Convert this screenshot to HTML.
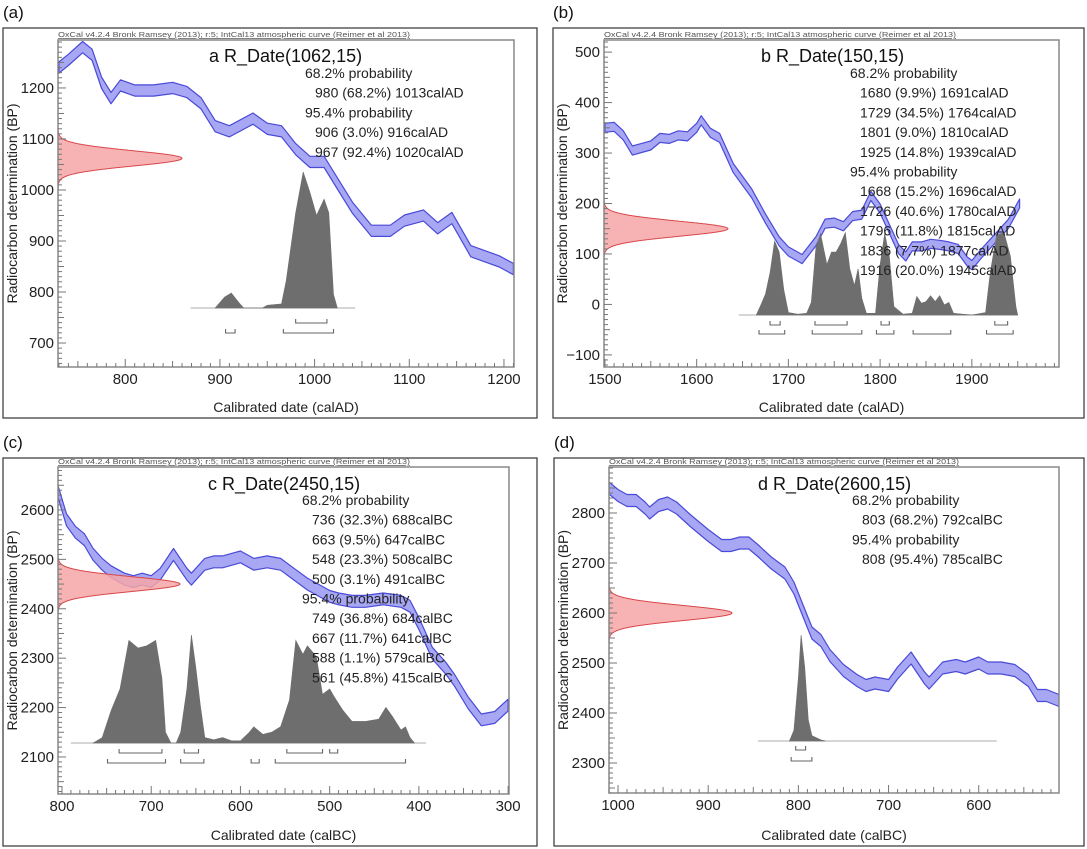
<!DOCTYPE html>
<html><head><meta charset="utf-8">
<style>
html,body{margin:0;padding:0;background:#fff;}
svg{display:block;font-family:"Liberation Sans",Arial,sans-serif;}
</style></head>
<body>
<svg id="fig" width="1087" height="849" viewBox="0 0 1087 849"></svg>
<script>
// ---------- Panel (a) data ----------
const aCurveYears = [730,740,755,765,775,785,795,810,830,850,865,880,895,910,935,950,965,980,995,1010,1025,1040,1060,1080,1095,1115,1130,1145,1165,1180,1195,1210];
const aCurveBP    = [1240,1255,1280,1265,1210,1180,1205,1195,1195,1200,1192,1170,1125,1115,1140,1120,1115,1080,1055,1055,1010,965,920,920,940,950,925,945,880,870,860,845];
const aProbYears  = [895,905,912,920,925,945,950,965,970,980,988,995,1002,1010,1015,1020,1024];
const aProbVals   = [0,0.08,0.11,0.04,0,0,0.02,0.03,0.2,0.7,1.0,0.85,0.68,0.8,0.7,0.1,0];
const aRange68 = [[980,1013]];
const aRange95 = [[906,916],[967,1020]];
const aText = ["68.2% probability","  980 (68.2%) 1013calAD","95.4% probability","  906 (3.0%) 916calAD","  967 (92.4%) 1020calAD"];
const aXTicks = [800,900,1000,1100,1200];
const aYTicks = [700,800,900,1000,1100,1200];

// ---------- Panel (b) data ----------
const bCurveYears = [1500,1510,1520,1530,1540,1550,1560,1570,1580,1590,1600,1605,1615,1625,1640,1660,1675,1690,1700,1715,1730,1740,1750,1760,1770,1780,1790,1800,1810,1820,1828,1835,1845,1855,1865,1875,1885,1895,1900,1910,1925,1940,1952];
const bCurveBP    = [350,352,335,305,310,315,330,328,335,333,350,365,340,330,270,220,170,125,105,90,125,160,162,155,175,178,215,190,150,110,95,115,115,120,118,115,110,85,78,100,130,160,200];
const bProbYears  = [1665,1670,1675,1680,1685,1690,1695,1700,1710,1720,1725,1730,1735,1742,1747,1752,1757,1762,1767,1772,1776,1780,1785,1795,1800,1805,1810,1815,1825,1835,1840,1845,1850,1855,1860,1865,1870,1875,1880,1900,1915,1920,1927,1935,1942,1948,1950];
const bProbVals   = [0,0.12,0.25,0.5,0.88,0.75,0.3,0.03,0.01,0.02,0.15,0.8,0.97,0.6,0.75,0.75,0.85,0.98,0.55,0.35,0.55,0.2,0.02,0.02,0.6,0.97,0.7,0.1,0.01,0.02,0.22,0.14,0.16,0.23,0.16,0.23,0.12,0.15,0.02,0,0.03,0.5,0.95,0.98,0.7,0.1,0];
const bRange68 = [[1680,1691],[1729,1764],[1801,1810],[1925,1939]];
const bRange95 = [[1668,1696],[1726,1780],[1796,1815],[1836,1877],[1916,1945]];
const bText = ["68.2% probability","  1680 (9.9%) 1691calAD","  1729 (34.5%) 1764calAD","  1801 (9.0%) 1810calAD","  1925 (14.8%) 1939calAD","95.4% probability","  1668 (15.2%) 1696calAD","  1726 (40.6%) 1780calAD","  1796 (11.8%) 1815calAD","  1836 (7.7%) 1877calAD","  1916 (20.0%) 1945calAD"];
const bXTicks = [1500,1600,1700,1800,1900];
const bYTicks = [-100,0,100,200,300,400,500];

// ---------- Panel (c) data ----------
const cCurveYears = [805,795,785,775,765,755,745,730,720,710,700,690,675,660,655,640,630,620,610,600,585,570,555,540,525,510,500,490,475,460,440,420,410,400,385,370,360,345,330,315,300];
const cCurveBP    = [2640,2580,2555,2540,2510,2490,2475,2460,2455,2460,2455,2470,2510,2470,2460,2490,2495,2495,2500,2505,2490,2495,2490,2470,2450,2435,2425,2420,2415,2415,2420,2415,2405,2370,2310,2280,2255,2210,2175,2180,2205];
const cProbYears  = [765,755,745,735,725,715,705,695,688,684,678,672,667,660,655,650,645,640,630,620,610,600,590,585,575,565,555,545,538,530,525,515,508,500,495,485,475,460,445,437,430,420,415,410,405];
const cProbVals   = [0,0.05,0.3,0.5,0.95,0.88,0.9,0.95,0.6,0.1,0,0,0.1,0.5,1.0,0.7,0.35,0.05,0.03,0.05,0.02,0.02,0.1,0.15,0.08,0.1,0.15,0.4,0.95,0.82,0.9,0.8,0.45,0.5,0.43,0.3,0.2,0.2,0.22,0.33,0.25,0.12,0.15,0.05,0];
const cRange68 = [[736,688],[663,647],[548,508],[500,491]];
const cRange95 = [[749,684],[667,641],[588,579],[561,415]];
const cText = ["68.2% probability","  736 (32.3%) 688calBC","  663 (9.5%) 647calBC","  548 (23.3%) 508calBC","  500 (3.1%) 491calBC","95.4% probability","  749 (36.8%) 684calBC","  667 (11.7%) 641calBC","  588 (1.1%) 579calBC","  561 (45.8%) 415calBC"];
const cXTicks = [800,700,600,500,400,300];
const cYTicks = [2100,2200,2300,2400,2500,2600];

// ---------- Panel (d) data ----------
const dCurveYears = [1010,1000,990,980,970,965,955,945,935,920,900,885,875,865,855,845,830,815,805,795,785,775,765,750,735,725,715,700,690,675,660,655,640,625,615,600,590,575,560,545,535,525,511];
const dCurveBP    = [2850,2835,2825,2825,2810,2800,2815,2820,2810,2785,2755,2735,2735,2740,2740,2725,2700,2680,2650,2605,2560,2545,2515,2485,2465,2455,2460,2455,2480,2510,2470,2460,2490,2495,2490,2500,2490,2490,2485,2465,2435,2435,2425];
const dProbYears  = [810,805,800,797,793,789,785,775,770];
const dProbVals   = [0,0.1,0.6,1.0,0.7,0.2,0.05,0.01,0];
const dRange68 = [[803,792]];
const dRange95 = [[808,785]];
const dText = ["68.2% probability","  803 (68.2%) 792calBC","95.4% probability","  808 (95.4%) 785calBC"];
const dXTicks = [1000,900,800,700,600];
const dYTicks = [2300,2400,2500,2600,2700,2800];

// R_Date measurements (mean, sigma)
const rDates = [[1062,15],[150,15],[2450,15],[2600,15]];

const NS = "http://www.w3.org/2000/svg";
const svg = document.getElementById('fig');
function mk(tag, attrs, parent){
  const e = document.createElementNS(NS, tag);
  for (const k in attrs) e.setAttribute(k, attrs[k]);
  (parent||svg).appendChild(e);
  return e;
}

const panels = [
  {id:'a', label:'(a)', box:[3,28,534,390], plot:[58,40,514,367], x0:729, x1:1210.6, y0:1294, y1:653,
   cy:aCurveYears, cv:aCurveBP, hw:11, py:aProbYears, pv:aProbVals, base:308, maxH:136, pxr:[869,1043],
   r68:aRange68, r95:aRange95, b68:323, b95:333, text:aText, xt:aXTicks, yt:aYTicks,
   title:'a R_Date(1062,15)', tx:209, ty:62, lx:305, ly:78, xl:'Calibrated date (calAD)', rd:rDates[0], gw:124},
  {id:'b', label:'(b)', box:[553,28,531,390], plot:[604,40,1059,367], x0:1499, x1:1995, y0:524, y1:-124,
   cy:bCurveYears, cv:bCurveBP, hw:9, py:bProbYears, pv:bProbVals, base:315, maxH:84, pxr:[1646,1950],
   r68:bRange68, r95:bRange95, b68:325, b95:334, text:bText, xt:bXTicks, yt:bYTicks,
   title:'b R_Date(150,15)', tx:761, ty:62, lx:850, ly:78, xl:'Calibrated date (calAD)', rd:rDates[1], gw:124},
  {id:'c', label:'(c)', box:[3,458,534,388], plot:[58,467,509,794], x0:804.5, x1:299, y0:2687, y1:2025,
   cy:cCurveYears, cv:cCurveBP, hw:12, py:cProbYears, pv:cProbVals, base:743, maxH:108, pxr:[790,392],
   r68:cRange68, r95:cRange95, b68:753, b95:763, text:cText, xt:cXTicks, yt:cYTicks,
   title:'c R_Date(2450,15)', tx:208, ty:490, lx:302, ly:505, xl:'Calibrated date (calBC)', rd:rDates[2], gw:122},
  {id:'d', label:'(d)', box:[554,458,530,388], plot:[609,467,1059,793], x0:1010, x1:511, y0:2892, y1:2240,
   cy:dCurveYears, cv:dCurveBP, hw:12, py:dProbYears, pv:dProbVals, base:741, maxH:106, pxr:[845,580],
   r68:dRange68, r95:dRange95, b68:750, b95:761, text:dText, xt:dXTicks, yt:dYTicks,
   title:'d R_Date(2600,15)', tx:758, ty:490, lx:852, ly:505, xl:'Calibrated date (calBC)', rd:rDates[3], gw:123}
];

panels.forEach(p => {
  const [L,T,R,B] = p.plot;
  const X = v => L + (v - p.x0) / (p.x1 - p.x0) * (R - L);
  const Y = v => T + (p.y0 - v) / (p.y0 - p.y1) * (B - T);
  const g = mk('g', {});
  
  

  const pl = mk('text', {x: p.box[0], y: p.box[1]-10, 'font-size':17, fill:'#111'}, g);
  pl.textContent = p.label;
  
  

  const ob = mk('rect', {x:p.box[0], y:p.box[1], width:p.box[2], height:p.box[3], fill:'none', stroke:'#333', 'stroke-width':1.2}, g);
  
  

  const hd = mk('text', {x:L, y:T-3, 'font-size':7.3, fill:'#555', 'text-decoration':'underline', textLength:(p.id==='d'?350:352), lengthAdjust:'spacingAndGlyphs'}, g);
  hd.textContent = 'OxCal v4.2.4 Bronk Ramsey (2013); r:5; IntCal13 atmospheric curve (Reimer et al 2013)';
  
  

  const clipId = 'clip' + p.id;
  const cp = mk('clipPath', {id: clipId}, g);
  mk('rect', {x:L, y:T, width:R-L, height:B-T}, cp);
  const inner = mk('g', {'clip-path':'url(#'+clipId+')'}, g);

  // calibration band
  let up = [], lo = [];
  for (let i=0;i<p.cy.length;i++){ up.push(X(p.cy[i]).toFixed(1)+','+Y(p.cv[i]+p.hw).toFixed(1)); lo.push(X(p.cy[i]).toFixed(1)+','+Y(p.cv[i]-p.hw).toFixed(1)); }
  const band = mk('polygon', {points: up.concat(lo.reverse()).join(' '), fill:'#a7a7f4', stroke:'#4a4ad8', 'stroke-width':1.2, 'stroke-linejoin':'round'}, inner);
  
  

  // radiocarbon gaussian (red)
  const [mu, sd] = p.rd;
  let gp = [L+','+Y(mu+4.5*sd).toFixed(1)];
  for (let v = mu+4.5*sd; v >= mu-4.5*sd; v -= 0.5){
    const z = (v-mu)/sd;
    gp.push((L + p.gw*Math.exp(-0.5*z*z)).toFixed(1)+','+Y(v).toFixed(1));
  }
  gp.push(L+','+Y(mu-4.5*sd).toFixed(1));
  const gauss = mk('polygon', {points: gp.join(' '), fill:'#f6a6a6', stroke:'#d8454a', 'stroke-width':1, 'fill-opacity':0.85}, inner);
  
  

  // baseline of calibrated distribution
  const bl = mk('line', {x1:X(p.pxr[0]), x2:X(p.pxr[1]), y1:p.base, y2:p.base, stroke:'#c8c8c8', 'stroke-width':1.5}, inner);
  
  

  let dp = [X(p.py[0]).toFixed(1)+','+p.base];
  for (let i=0;i<p.py.length;i++) dp.push(X(p.py[i]).toFixed(1)+','+(p.base - p.pv[i]*p.maxH).toFixed(1));
  dp.push(X(p.py[p.py.length-1]).toFixed(1)+','+p.base);
  const dist = mk('polygon', {points: dp.join(' '), fill:'#6e6e6e', stroke:'#6e6e6e', 'stroke-width':0.6}, inner);
  
  

  // range brackets
  [[p.r68, p.b68, '68'], [p.r95, p.b95, '95']].forEach(([rs, yy, nm]) => {
    rs.forEach(r => {
      const x1 = X(r[0]), x2 = X(r[1]);
      const br = mk('polyline', {points: `${x1},${yy-4} ${x1},${yy} ${x2},${yy} ${x2},${yy-4}`, fill:'none', stroke:'#666', 'stroke-width':1.1}, inner);
      
      
    });
  });

  // plot frame
  const fr = mk('rect', {x:L, y:T, width:R-L, height:B-T, fill:'none', stroke:'#888', 'stroke-width':1.5}, g);
  
  

  // x ticks
  const xs = Math.min(p.x0,p.x1), xe = Math.max(p.x0,p.x1);
  for (let v = Math.ceil(xs/10)*10; v <= xe; v += 10){
    const major = v % 100 === 0, mid = v % 50 === 0;
    mk('line', {x1:X(v), x2:X(v), y1:B, y2:B-(major?8:(mid?6:4)), stroke:'#777', 'stroke-width':1}, g);
  }
  p.xt.forEach(v => {
    const t = mk('text', {x:X(v), y:B+17, 'font-size':15, fill:'#222', 'text-anchor':'middle'}, g);
    t.textContent = v;
    
    
  });
  const ys = Math.min(p.y0,p.y1), ye = Math.max(p.y0,p.y1);
  for (let v = Math.ceil(ys/10)*10; v <= ye; v += 10){
    const major = v % 100 === 0, mid = v % 50 === 0;
    mk('line', {x1:L, x2:L+(major?8:(mid?6:4)), y1:Y(v), y2:Y(v), stroke:'#777', 'stroke-width':1}, g);
  }
  p.yt.forEach(v => {
    const t = mk('text', {x:L-4, y:Y(v)+5, 'font-size':15, fill:'#222', 'text-anchor':'end'}, g);
    t.textContent = v < 0 ? '\u2212' + Math.abs(v) : v;
    
    
  });

  const xl = mk('text', {x:(L+R)/2, y:p.box[1]+p.box[3]-6, 'font-size':14, fill:'#222', 'text-anchor':'middle'}, g);
  xl.textContent = p.xl;
  
  
  const yx = p.box[0]+14, yc = (T+B)/2;
  const yl = mk('text', {x:yx, y:yc, 'font-size':14, fill:'#222', 'text-anchor':'middle', transform:`rotate(-90 ${yx} ${yc})`}, g);
  yl.textContent = 'Radiocarbon determination (BP)';
  
  

  const ti = mk('text', {x:p.tx, y:p.ty, 'font-size':18, fill:'#111'}, g);
  ti.textContent = p.title;
  
  

  p.text.forEach((s, i) => {
    const indent = s.startsWith('  ');
    const t = mk('text', {x:p.lx + (indent?10:0), y:p.ly + i*19.7, 'font-size':14, fill:'#222'}, g);
    t.textContent = s.trim();
    
    
  });
});
</script>
</body></html>
